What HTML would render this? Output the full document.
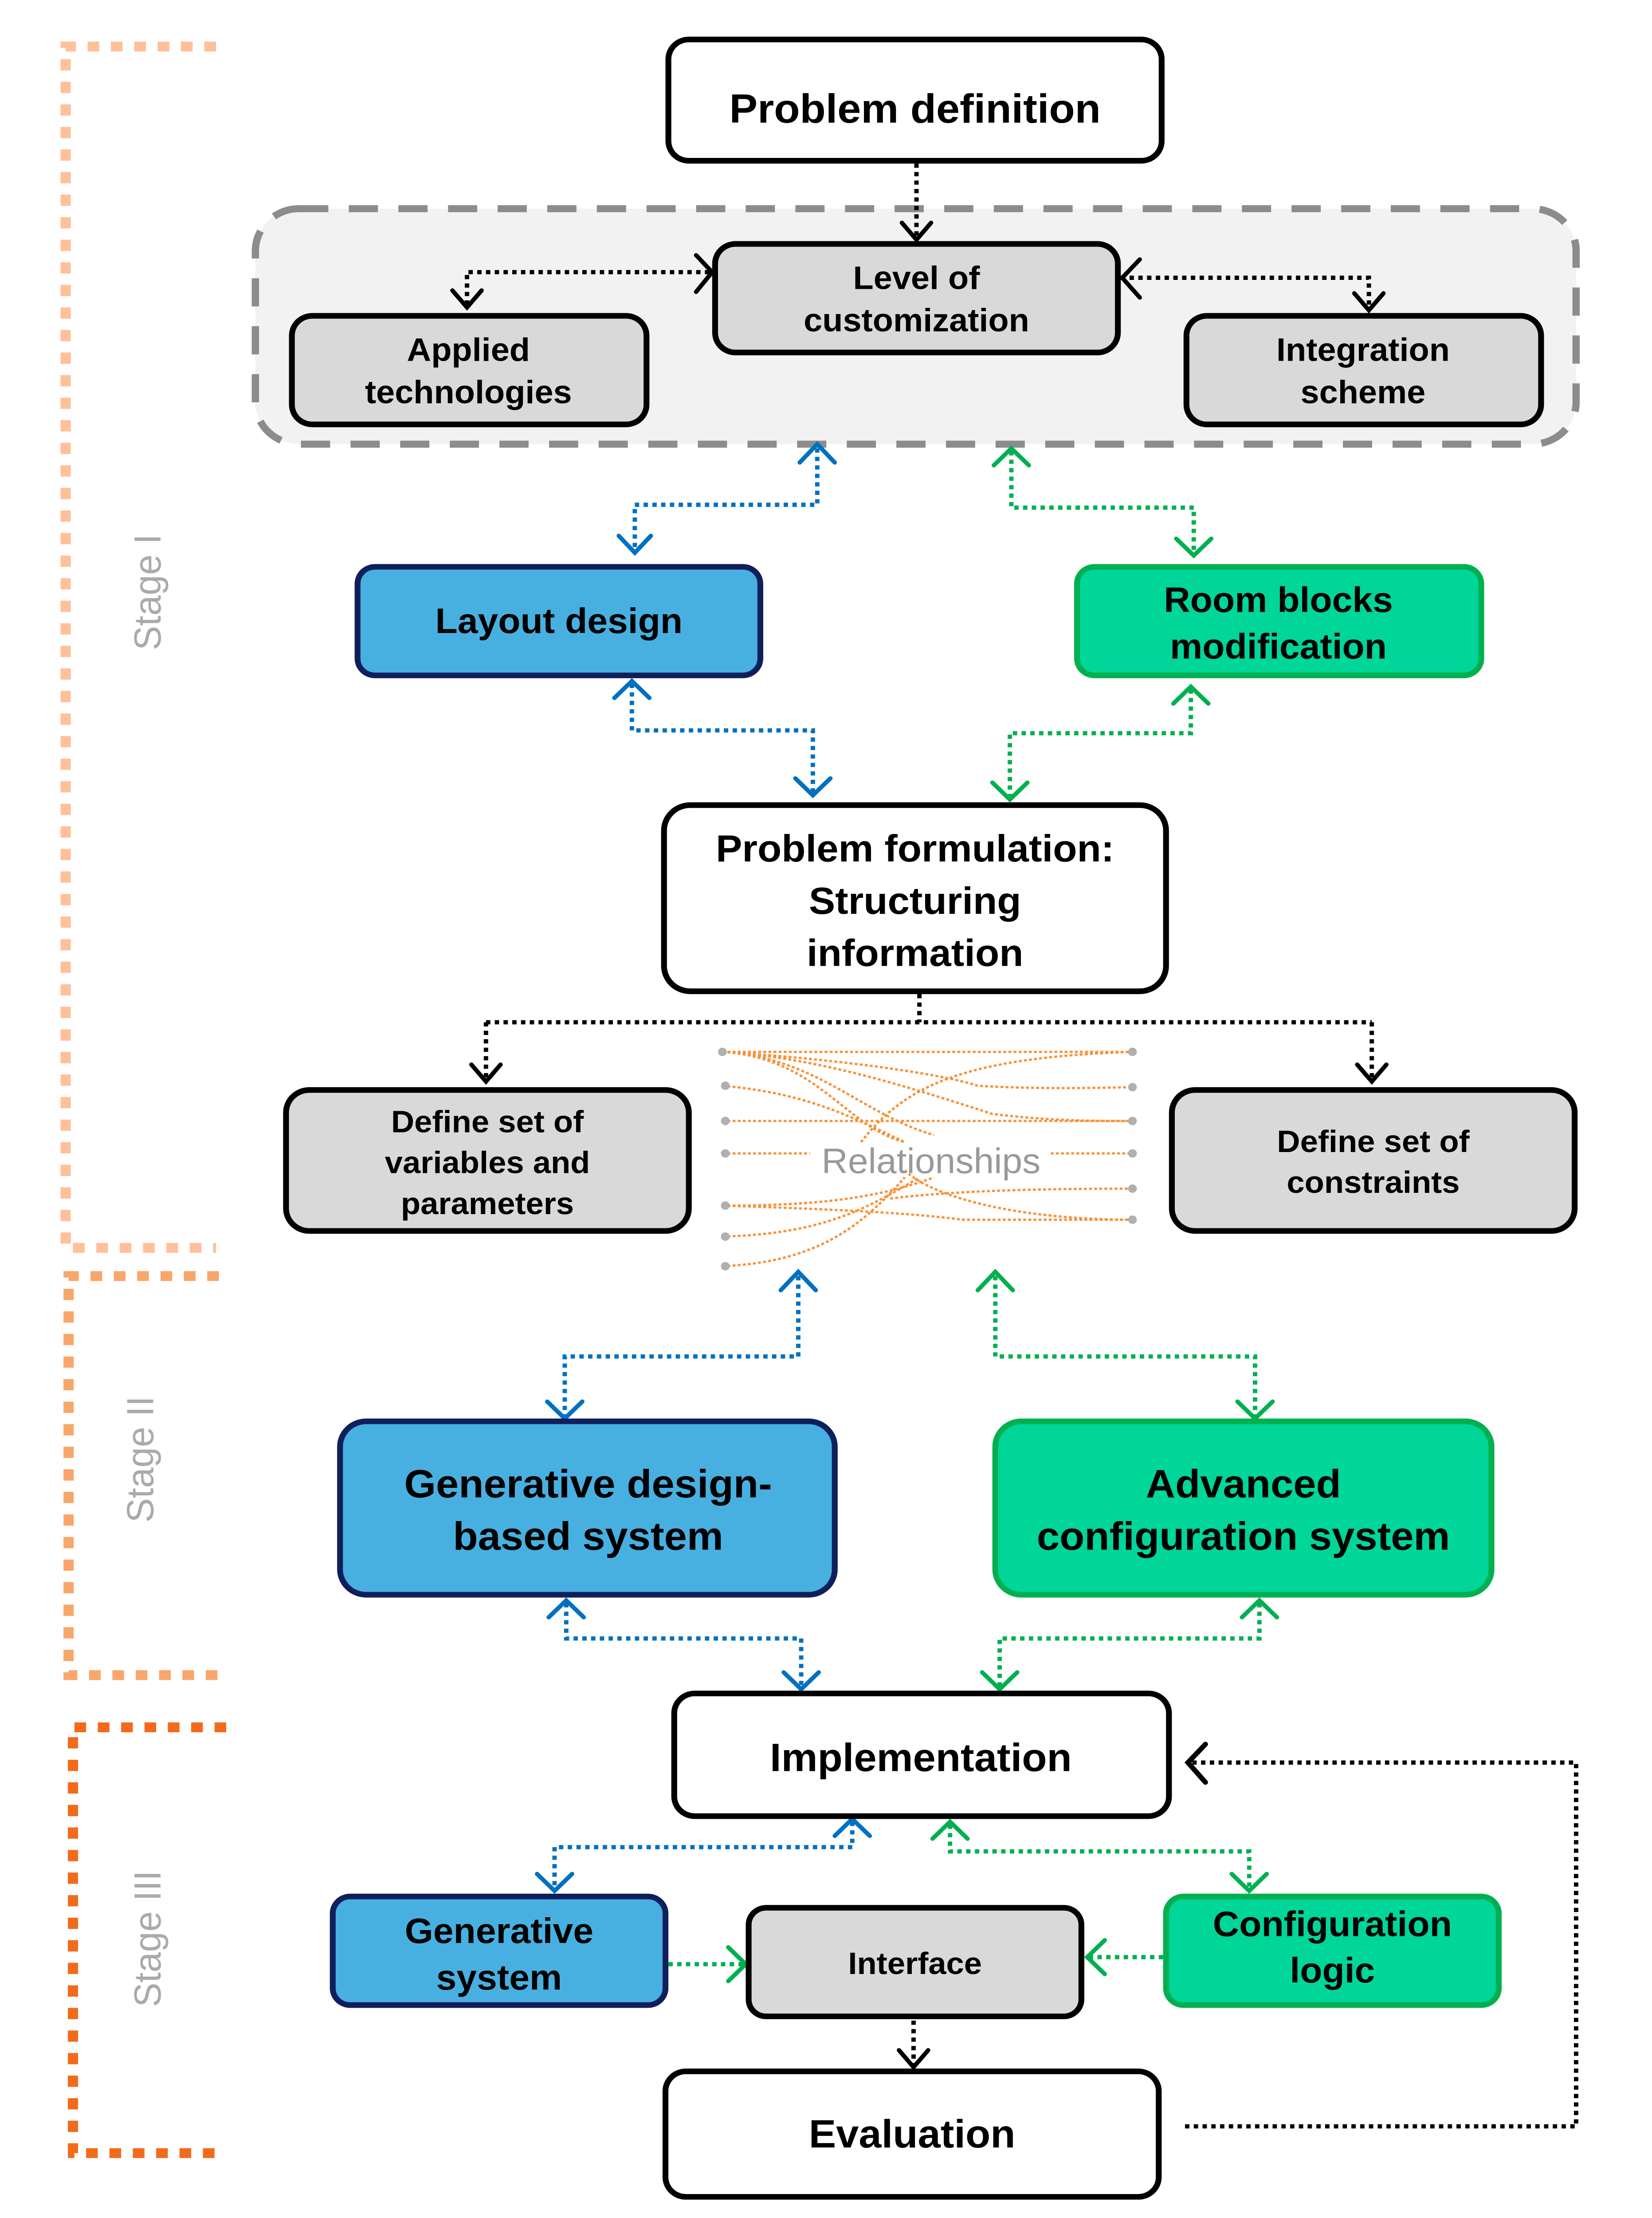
<!DOCTYPE html>
<html><head><meta charset="utf-8">
<style>
html,body{margin:0;padding:0;background:#fff;width:100%;height:100%;overflow:hidden;}
svg{display:block;position:fixed;left:0;top:0;width:100vw;height:100vh;}
text{font-family:"Liberation Sans",Arial,sans-serif;font-weight:bold;text-anchor:middle;fill:#000;}
</style></head>
<body>
<svg viewBox="0 0 1132 1573" preserveAspectRatio="none" xmlns="http://www.w3.org/2000/svg">
<rect width="1132" height="1573" fill="#fff"/>

<g fill="none" stroke-width="7" stroke-dasharray="8 8">
<path d="M148 33 H45 V885 H148" stroke="#FFC09A"/>
<path d="M150 905 H47 V1188 H150" stroke="#F9A66B"/>
<path d="M155 1225 H50 V1527 H155" stroke="#F26B1D"/>
</g>
<text x="0" y="0" transform="translate(110,420) rotate(-90)" style="font-weight:normal;fill:#aaa;font-size:26px">Stage I</text>
<text x="0" y="0" transform="translate(105,1035) rotate(-90)" style="font-weight:normal;fill:#aaa;font-size:26px">Stage II</text>
<text x="0" y="0" transform="translate(110,1375) rotate(-90)" style="font-weight:normal;fill:#aaa;font-size:26px">Stage III</text>

<rect x="175" y="148" width="905" height="167" rx="30" fill="#f2f2f2" stroke="#8c8c8c" stroke-width="5" stroke-dasharray="20 14"/>

<g fill="none" stroke-width="3" stroke-dasharray="3 3">
<path d="M628 116 V168" stroke="#000"/>
<path d="M320 216 V193 H486" stroke="#000"/>
<path d="M768 197 H938 V220" stroke="#000"/>
<path d="M560 318 V358 H435 V390" stroke="#0070c0"/>
<path d="M693 320 V360 H818 V393" stroke="#00b050"/>
<path d="M433 485 V518 H557 V563" stroke="#0070c0"/>
<path d="M816 489 V520 H692 V566" stroke="#00b050"/>
<path d="M630 705 V725 M333 725 H940 M333 725 V765 M940 725 V765" stroke="#000"/>
<path d="M547 905 V962 H387 V1005" stroke="#0070c0"/>
<path d="M682 905 V962 H860 V1005" stroke="#00b050"/>
<path d="M388 1137 V1162 H549 V1197" stroke="#0070c0"/>
<path d="M863 1137 V1162 H685 V1197" stroke="#00b050"/>
<path d="M584 1292 V1310 H380 V1340" stroke="#0070c0"/>
<path d="M651 1294 V1313 H856 V1340" stroke="#00b050"/>
<path d="M458 1393 H510" stroke="#00b050"/>
<path d="M797 1388 H745" stroke="#00b050"/>
<path d="M626 1433 V1465" stroke="#000"/>
<path d="M812 1508 H1080 V1250 H816" stroke="#000"/>
</g>
<g fill="none" stroke-width="3" stroke-linecap="round">
<path d="M618 158 L628 170 L638 158" stroke="#000"/>
<path d="M310 206 L320 218 L330 206" stroke="#000"/>
<path d="M477 181 L488 193 L477 207" stroke="#000"/>
<path d="M781 184 L769 197 L781 211" stroke="#000"/>
<path d="M928 208 L938 220 L948 208" stroke="#000"/>
<path d="M548 328 L560 315 L572 328" stroke="#0070c0"/>
<path d="M424 380 L435 392 L446 380" stroke="#0070c0"/>
<path d="M681 330 L693 318 L705 330" stroke="#00b050"/>
<path d="M806 382 L818 394 L830 382" stroke="#00b050"/>
<path d="M421 495 L433 483 L445 495" stroke="#0070c0"/>
<path d="M545 552 L557 564 L569 552" stroke="#0070c0"/>
<path d="M804 499 L816 487 L828 499" stroke="#00b050"/>
<path d="M680 555 L692 567 L704 555" stroke="#00b050"/>
<path d="M323 755 L333 767 L343 755" stroke="#000"/>
<path d="M930 755 L940 767 L950 755" stroke="#000"/>
<path d="M535 915 L547 902 L559 915" stroke="#0070c0"/>
<path d="M375 994 L387 1006 L399 994" stroke="#0070c0"/>
<path d="M670 915 L682 902 L694 915" stroke="#00b050"/>
<path d="M848 994 L860 1006 L872 994" stroke="#00b050"/>
<path d="M376 1147 L388 1135 L400 1147" stroke="#0070c0"/>
<path d="M537 1186 L549 1198 L561 1186" stroke="#0070c0"/>
<path d="M851 1147 L863 1135 L875 1147" stroke="#00b050"/>
<path d="M673 1186 L685 1198 L697 1186" stroke="#00b050"/>
<path d="M572 1302 L584 1290 L596 1302" stroke="#0070c0"/>
<path d="M368 1329 L380 1341 L392 1329" stroke="#0070c0"/>
<path d="M639 1304 L651 1292 L663 1304" stroke="#00b050"/>
<path d="M844 1329 L856 1341 L868 1329" stroke="#00b050"/>
<path d="M499 1381 L511 1393 L499 1405" stroke="#00b050"/>
<path d="M757 1376 L745 1388 L757 1400" stroke="#00b050"/>
<path d="M616 1454 L626 1466 L636 1454" stroke="#000"/>
<path d="M826 1237 L814 1250 L826 1264" stroke="#000" stroke-width="3.5"/>
</g>

<g fill="none" stroke="#F7923A" stroke-width="1.6" stroke-dasharray="2 1.5">
<path d="M495 746 H776"/>
<path d="M495 746 C560 750 580 800 620 810"/>
<path d="M495 746 C560 750 590 790 640 805"/>
<path d="M495 746 C560 750 620 770 680 790 C720 795 750 795 776 795"/>
<path d="M495 746 C560 750 640 760 670 770 C700 772 740 772 776 771"/>
<path d="M495 770 C550 775 580 790 620 810"/>
<path d="M495 795 H776"/>
<path d="M590 810 C620 770 660 750 776 746"/>
<path d="M495 818 H555"/>
<path d="M720 818 H776"/>
<path d="M495 855 C560 855 600 850 640 835"/>
<path d="M495 855 C580 858 620 860 660 865 C700 865 740 865 776 865"/>
<path d="M495 877 C560 875 590 860 630 835"/>
<path d="M495 898 C560 895 590 870 620 835"/>
<path d="M610 850 C650 845 700 843 776 843"/>
<path d="M620 830 C640 850 700 865 776 865"/>
</g>
<g fill="#b0b0b0">
<circle cx="495" cy="746" r="3"/><circle cx="497" cy="770" r="3"/><circle cx="497" cy="795" r="3"/><circle cx="497" cy="818" r="3"/><circle cx="497" cy="855" r="3"/><circle cx="497" cy="877" r="3"/><circle cx="497" cy="898" r="3"/>
<circle cx="776" cy="746" r="3"/><circle cx="776" cy="771" r="3"/><circle cx="776" cy="795" r="3"/><circle cx="776" cy="818" r="3"/><circle cx="776" cy="843" r="3"/><circle cx="776" cy="865" r="3"/>
</g>
<text x="638" y="832" style="font-weight:normal;fill:#999;font-size:25px">Relationships</text>

<g stroke-width="4">
<rect x="458" y="28" width="338" height="86" rx="14" fill="#fff" stroke="#000"/>
<rect x="490" y="173" width="276" height="77" rx="14" fill="#d9d9d9" stroke="#000"/>
<rect x="200" y="224" width="243" height="77" rx="14" fill="#d9d9d9" stroke="#000"/>
<rect x="813" y="224" width="243" height="77" rx="14" fill="#d9d9d9" stroke="#000"/>
<rect x="245" y="402" width="276" height="77" rx="12" fill="#48B0E0" stroke="#0f1f5c"/>
<rect x="738" y="402" width="277" height="77" rx="12" fill="#00D59A" stroke="#00b050"/>
<rect x="455" y="571" width="344" height="132" rx="18" fill="#fff" stroke="#000"/>
<rect x="196" y="773" width="276" height="100" rx="16" fill="#d9d9d9" stroke="#000"/>
<rect x="803" y="773" width="276" height="100" rx="16" fill="#d9d9d9" stroke="#000"/>
<rect x="233" y="1008" width="339" height="123" rx="18" fill="#48B0E0" stroke="#0f1f5c"/>
<rect x="682" y="1008" width="340" height="123" rx="18" fill="#00D59A" stroke="#00b050"/>
<rect x="462" y="1201" width="339" height="87" rx="14" fill="#fff" stroke="#000"/>
<rect x="228" y="1345" width="228" height="77" rx="12" fill="#48B0E0" stroke="#0f1f5c"/>
<rect x="513" y="1353" width="228" height="77" rx="12" fill="#d9d9d9" stroke="#000"/>
<rect x="799" y="1345" width="228" height="77" rx="12" fill="#00D59A" stroke="#00b050"/>
<rect x="456" y="1469" width="338" height="89" rx="14" fill="#fff" stroke="#000"/>
</g>

<text x="627" y="87" font-size="29">Problem definition</text>
<text x="628" y="205" font-size="23">Level of</text>
<text x="628" y="235" font-size="23">customization</text>
<text x="321" y="256" font-size="23">Applied</text>
<text x="321" y="286" font-size="23">technologies</text>
<text x="934" y="256" font-size="23">Integration</text>
<text x="934" y="286" font-size="23">scheme</text>
<text x="383" y="449" font-size="25">Layout design</text>
<text x="876" y="434" font-size="25">Room blocks</text>
<text x="876" y="467" font-size="25">modification</text>
<text x="627" y="611" font-size="27">Problem formulation:</text>
<text x="627" y="648" font-size="27">Structuring</text>
<text x="627" y="685" font-size="27">information</text>
<text x="334" y="803" font-size="22">Define set of</text>
<text x="334" y="832" font-size="22">variables and</text>
<text x="334" y="861" font-size="22">parameters</text>
<text x="941" y="817" font-size="22">Define set of</text>
<text x="941" y="846" font-size="22">constraints</text>
<text x="403" y="1062" font-size="28">Generative design-</text>
<text x="403" y="1099" font-size="28">based system</text>
<text x="852" y="1062" font-size="28">Advanced</text>
<text x="852" y="1099" font-size="28">configuration system</text>
<text x="631" y="1256" font-size="28">Implementation</text>
<text x="342" y="1378" font-size="25">Generative</text>
<text x="342" y="1411" font-size="25">system</text>
<text x="627" y="1400" font-size="22">Interface</text>
<text x="913" y="1373" font-size="25">Configuration</text>
<text x="913" y="1406" font-size="25">logic</text>
<text x="625" y="1523" font-size="28">Evaluation</text>
</svg>
</body></html>
